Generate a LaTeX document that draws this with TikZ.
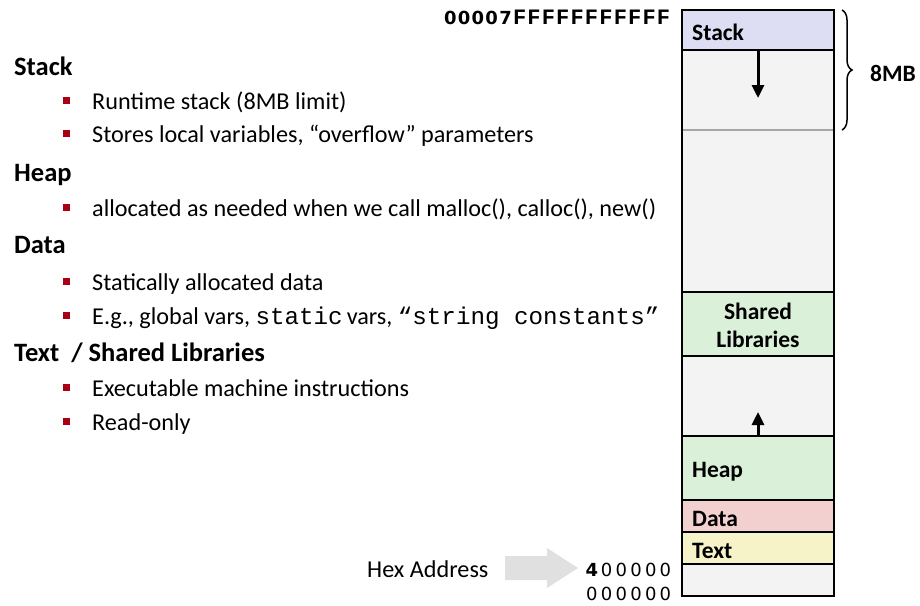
\documentclass[tikz,border=0pt]{standalone}
\usepackage{fontspec}
\setmainfont{Carlito}
\newfontfamily\codefont{Liberation Mono}
\newfontfamily\addrfont{DejaVu Sans}
\usetikzlibrary{arrows.meta,decorations.pathreplacing}
\definecolor{stackc}{RGB}{221,221,243}
\definecolor{freec}{RGB}{243,243,243}
\definecolor{greenc}{RGB}{218,240,216}
\definecolor{pinkc}{RGB}{243,208,208}
\definecolor{yellowc}{RGB}{246,243,200}
\definecolor{bulletc}{RGB}{170,0,20}
\definecolor{hexgray}{RGB}{224,224,224}
\newcommand{\dgA}[1]{\makebox[14.7pt][c]{#1}}
\newcommand{\dgB}[1]{\makebox[13.8pt][c]{#1}}
\newcommand{\dgC}[1]{\makebox[14.4pt][c]{#1}}
\begin{document}
\begin{tikzpicture}[x=1pt,y=-1pt,
  seg/.style={draw=black,line width=2.2pt,minimum width=152pt,inner sep=0pt,outer sep=0pt},
  head/.style={anchor=base west,inner sep=0pt,font=\fontsize{26.5}{30}\selectfont\bfseries},
  body/.style={anchor=base west,inner sep=0pt,font=\fontsize{24.2}{27}\selectfont},
  clabel/.style={anchor=base west,inner sep=0pt,font=\fontsize{23.5}{26}\selectfont\bfseries},
  bsq/.style={fill=bulletc,minimum size=7pt,inner sep=0pt},
  growarrow/.style={line width=3pt,-{Triangle[width=12pt,length=13pt]}}]
\useasboundingbox (0,0) rectangle (920,605);
% column segments
\node[seg,fill=stackc,minimum height=40pt] (stack) at (758,30) {};
\node[seg,fill=freec,minimum height=242pt] (free1) at (758,171) {};
\node[seg,fill=greenc,minimum height=64pt] (shlib) at (758,324) {};
\node[seg,fill=freec,minimum height=80pt] (free2) at (758,396) {};
\node[seg,fill=greenc,minimum height=64pt] (heap) at (758,468) {};
\node[seg,fill=pinkc,minimum height=32pt] (data) at (758,516) {};
\node[seg,fill=yellowc,minimum height=32pt] (text) at (758,548) {};
\node[seg,fill=freec,minimum height=32pt] (low) at (758,580) {};
\draw[seg] (stack.north west) rectangle (low.south east);
\draw[gray!70,line width=2pt] ([yshift=-80pt,xshift=1pt]free1.north west) -- ([yshift=-80pt,xshift=-1pt]free1.north east);
% column labels
\node[clabel] (lstack) at (692,40) {Stack};
\node[clabel,anchor=center,align=center,font=\fontsize{23.5}{28}\selectfont\bfseries] (lshlib) at (758,325) {Shared\\Libraries};
\node[clabel] (lheap) at (692,477) {Heap};
\node[clabel] (ldata) at (692,526) {Data};
\node[clabel] (ltext) at (692,558) {Text};
% growth arrows
\coordinate (downtip) at (758,98);
\coordinate (uptip) at (758,412);
\draw[growarrow] (stack.south) -- (downtip);
\draw[growarrow] (heap.north) -- (uptip);
% brace
\coordinate (brtop) at (842,10);
\coordinate (brbot) at (842,130);
\draw[line width=1.5pt,decorate,decoration={brace,amplitude=10pt}] (brtop) -- (brbot);
\node[clabel] (mb) at (870,81) {8MB};
% addresses
\node[anchor=base east,inner sep=0pt] (topaddr) at (671,24) {\addrfont\bfseries\fontsize{18}{20}\selectfont\dgB{0}\dgB{0}\dgB{0}\dgB{0}\dgB{7}\codefont\bfseries\fontsize{22}{24}\selectfont\dgC{F}\dgC{F}\dgC{F}\dgC{F}\dgC{F}\dgC{F}\dgC{F}\dgC{F}\dgC{F}\dgC{F}\dgC{F}};
\node[anchor=base east,inner sep=0pt] (addr4) at (673,576) {\addrfont\fontsize{18}{20}\selectfont\dgA{\bfseries 4}\dgA{0}\dgA{0}\dgA{0}\dgA{0}\dgA{0}};
\node[anchor=base east,inner sep=0pt] (addr0) at (673,600) {\addrfont\fontsize{18}{20}\selectfont\dgA{0}\dgA{0}\dgA{0}\dgA{0}\dgA{0}\dgA{0}};
\node[body] (hexlbl) at (367,577) {Hex Address};
\fill[hexgray] (505,556) -- (547,556) -- (547,548) -- (578,568) -- (547,588) -- (547,580) -- (505,580) -- cycle;
% left text
\node[head] (hstack) at (14,75) {Stack};
\node[bsq] (b1) at (66,100) {};
\node[body] (t1) at (92,109) {Runtime stack (8MB limit)};
\node[bsq] (b2) at (66,133) {};
\node[body] (t2) at (92,142) {Stores local variables, “overflow” parameters};
\node[head] (hheap) at (14,181) {Heap};
\node[bsq] (b3) at (66,207) {};
\node[body] (t3) at (92,216) {allocated as needed when we call malloc(), calloc(), new()};
\node[head] (hdata) at (14,253) {Data};
\node[bsq] (b4) at (66,281) {};
\node[body] (t4) at (92,290) {Statically allocated data};
\node[bsq] (b5) at (66,315) {};
\node[body] (t5) at (92,324) {E.g., global vars, {\codefont static}\,vars, {\codefont “string constants”}};
\node[head] (htext) at (14,361) {Text~~/ Shared Libraries};
\node[bsq] (b6) at (66,387) {};
\node[body] (t6) at (92,396) {Executable machine instructions};
\node[bsq] (b7) at (66,421) {};
\node[body] (t7) at (92,430) {Read-only};
\end{tikzpicture}
\end{document}
